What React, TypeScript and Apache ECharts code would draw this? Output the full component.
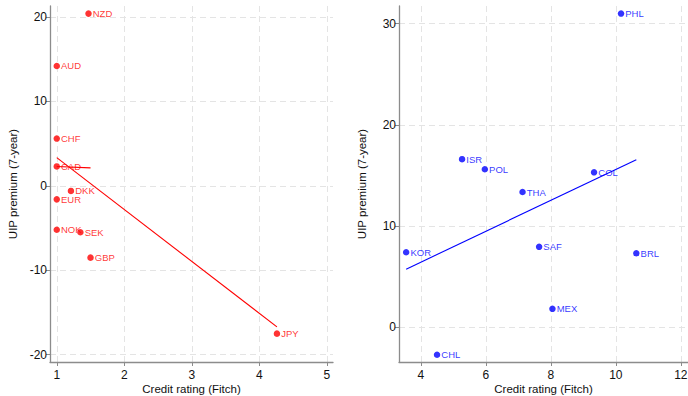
import React, { useEffect, useRef } from "react";
import * as echarts from "echarts";

// Left panel (advanced-economy currencies)
const leftNames = ["NZD", "AUD", "CHF", "CAD", "DKK", "EUR", "NOK", "SEK", "GBP", "JPY"];
const leftX = [1.47, 1.0, 1.0, 1.0, 1.21, 1.0, 1.0, 1.35, 1.5, 4.26];
const leftY = [20.4, 14.2, 5.6, 2.3, -0.6, -1.6, -5.2, -5.5, -8.5, -17.5];
const leftFitX = [1.0, 4.26];
const leftFitY = [3.35, -16.7];
const leftStubX = [1.0, 1.5];
const leftStubY = [2.3, 2.13];
const leftXTicks = [1, 2, 3, 4, 5];
const leftYTicks = [-20, -10, 0, 10, 20];

// Right panel (emerging-market currencies)
const rightNames = ["PHL", "ISR", "POL", "THA", "COL", "KOR", "SAF", "BRL", "MEX", "CHL"];
const rightX = [10.16, 5.27, 5.97, 7.13, 9.33, 3.55, 7.64, 10.63, 8.05, 4.5];
const rightY = [31.0, 16.6, 15.6, 13.35, 15.3, 7.4, 7.93, 7.3, 1.8, -2.74];
const rightFitX = [3.55, 10.63];
const rightFitY = [5.72, 16.55];
const rightXTicks = [4, 6, 8, 10, 12];
const rightYTicks = [0, 10, 20, 30];

const AXIS_COLOR = "#8c8c8c";
const GRID_COLOR = "#e4e4e4";
const FONT = "Liberation Sans, Arial, Helvetica, sans-serif";

function zip(xs: number[], ys: number[]) {
  return xs.map((x, i) => [x, ys[i]]);
}

function makeXAxis(gridIndex: number, min: number, max: number, ticks: number[]) {
  return {
    type: "value",
    gridIndex,
    min,
    max,
    name: "Credit rating (Fitch)",
    nameLocation: "middle",
    nameGap: 20.5,
    nameMoveOverlap: false,
    nameTextStyle: { color: "#111", fontSize: 11.5, fontFamily: FONT, verticalAlign: "top", lineHeight: 12 },
    axisLine: { show: true, onZero: false, lineStyle: { color: AXIS_COLOR, width: 1.3 } },
    axisTick: { show: true, length: 4, customValues: ticks, lineStyle: { color: AXIS_COLOR } },
    axisLabel: { customValues: ticks, margin: 7, color: "#111", fontSize: 12, lineHeight: 12, fontFamily: FONT, showMinLabel: true, showMaxLabel: true, hideOverlap: false },
    splitLine: { show: true, lineStyle: { color: GRID_COLOR, type: [6, 4], width: 1 } },
  };
}

function makeYAxis(gridIndex: number, min: number, max: number, ticks: number[]) {
  return {
    type: "value",
    gridIndex,
    min,
    max,
    name: "UIP premium (7-year)",
    nameLocation: "middle",
    nameGap: 31,
    nameMoveOverlap: false,
    nameTextStyle: { color: "#111", fontSize: 11.5, fontFamily: FONT },
    axisLine: { show: true, onZero: false, lineStyle: { color: AXIS_COLOR, width: 1.3 } },
    axisTick: { show: true, length: 4, customValues: ticks, lineStyle: { color: AXIS_COLOR } },
    axisLabel: { customValues: ticks, margin: 3, color: "#111", fontSize: 12, fontFamily: FONT },
    splitLine: { show: true, lineStyle: { color: GRID_COLOR, type: [6, 4], width: 1 } },
  };
}

function scatterSeries(idx: number, names: string[], xs: number[], ys: number[], color: string) {
  return {
    type: "scatter",
    xAxisIndex: idx,
    yAxisIndex: idx,
    symbol: "circle",
    symbolSize: 6.5,
    itemStyle: { color },
    data: xs.map((x, i) => ({ value: [x, ys[i]], name: names[i] })),
    label: {
      show: true,
      position: "right",
      distance: 1,
      offset: [0, 1.5],
      formatter: (p: any) => p.name,
      color,
      fontSize: 9.5,
      fontFamily: FONT,
    },
    labelLayout: { hideOverlap: false },
    z: 3,
  };
}

function lineSeries(idx: number, xs: number[], ys: number[], color: string) {
  return {
    type: "line",
    xAxisIndex: idx,
    yAxisIndex: idx,
    showSymbol: false,
    symbol: "none",
    lineStyle: { color, width: 1.1 },
    data: zip(xs, ys),
    z: 2,
  };
}

export default function App() {
  const ref = useRef<HTMLDivElement>(null);
  useEffect(() => {
    if (!ref.current) return;
    const chart = echarts.init(ref.current, undefined, { renderer: "svg" });
    chart.setOption({
      animation: false,
      backgroundColor: "#ffffff",
      grid: [
        { left: 50, top: 6, width: 283, height: 356, outerBoundsMode: "none", containLabel: false },
        { left: 399, top: 6, width: 289, height: 356, outerBoundsMode: "none", containLabel: false },
      ],
      xAxis: [makeXAxis(0, 0.9, 5.09, leftXTicks), makeXAxis(1, 3.33, 12.22, rightXTicks)],
      yAxis: [makeYAxis(0, -20.86, 21.3, leftYTicks), makeYAxis(1, -3.46, 31.75, rightYTicks)],
      series: [
        scatterSeries(0, leftNames, leftX, leftY, "#ff0000"),
        lineSeries(0, leftFitX, leftFitY, "#ff0000"),
        lineSeries(0, leftStubX, leftStubY, "#ff0000"),
        scatterSeries(1, rightNames, rightX, rightY, "#0000ff"),
        lineSeries(1, rightFitX, rightFitY, "#0000ff"),
      ],
    });
    return () => chart.dispose();
  }, []);
  return (
    <div
      ref={ref}
      style={{ width: 688, height: 396, position: "absolute", left: 0, top: 0 }}
    />
  );
}
